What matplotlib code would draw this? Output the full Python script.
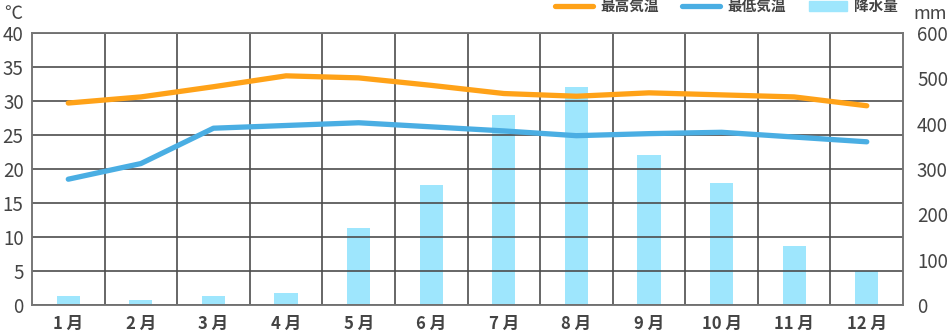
import numpy as np
import matplotlib.pyplot as plt
from matplotlib.lines import Line2D
from matplotlib.patches import Patch

plt.rcParams['font.family'] = ['Noto Sans CJK JP', 'DejaVu Sans']

months = ["1 月", "2 月", "3 月", "4 月", "5 月", "6 月",
          "7 月", "8 月", "9 月", "10 月", "11 月", "12 月"]
temp_max = [29.7, 30.6, 32.1, 33.7, 33.4, 32.3, 31.1, 30.7, 31.2, 30.9, 30.6, 29.3]
temp_min = [18.5, 20.8, 26.0, 26.4, 26.8, 26.2, 25.6, 24.9, 25.2, 25.4, 24.7, 24.0]
rain = [20, 10, 20, 27, 170, 265, 420, 480, 330, 270, 130, 75]

c_max = "#ffa218"
c_min = "#4aaee3"
c_bar = "#9ee6fd"
c_grid = "#4d4d4d"
c_text = "#444444"

fig = plt.figure(figsize=(9.52, 3.32), dpi=100)
ax = fig.add_axes([0.0336, 0.0813, 0.915, 0.8193])
ax2 = ax.twinx()

x = np.arange(1, 13)
ax2.bar(x, rain, width=0.32, color=c_bar, zorder=1)
ax2.set_ylim(0, 600)
ax2.set_yticks(range(0, 601, 100))

ax.set_zorder(ax2.get_zorder() + 1)
ax.patch.set_visible(False)
ax.plot(x, temp_max, color=c_max, lw=3.8, solid_capstyle='round', zorder=4)
ax.plot(x, temp_min, color=c_min, lw=3.8, solid_capstyle='round', zorder=4)
ax.set_xlim(0.5, 12.5)
ax.set_ylim(0, 40)
ax.set_yticks(range(0, 41, 5))
ax.set_xticks(x)
ax.set_xticklabels(months)
ax.set_xticks(np.arange(1.5, 12.5, 1), minor=True)
ax.grid(True, axis='y', which='major', color=c_grid, lw=1.2, zorder=2)
ax.grid(True, axis='x', which='minor', color=c_grid, lw=1.2, zorder=2)
ax.grid(False, axis='x', which='major')

for a in (ax, ax2):
    for s in a.spines.values():
        s.set_color("#777777")
        s.set_linewidth(1.2)
    a.tick_params(which='both', length=0, colors=c_text, labelsize=13.5)
ax.tick_params(axis='x', pad=7, labelsize=12)
ax.tick_params(axis='y', pad=6)
ax2.tick_params(axis='y', pad=10)
for t in ax.get_xticklabels():
    t.set_fontweight('bold')

fig.text(0.004, 0.985, "℃", fontsize=13, color=c_text, va='top', ha='left')
fig.text(0.959, 0.985, "mm", fontsize=13, color=c_text, va='top', ha='left')

handles = [Line2D([0], [0], color=c_max, lw=3.8, solid_capstyle='round'),
           Line2D([0], [0], color=c_min, lw=3.8, solid_capstyle='round'),
           Patch(color=c_bar)]
leg = fig.legend(handles, ["最高気温", "最低気温", "降水量"], ncol=3, frameon=False,
                 loc='upper right', bbox_to_anchor=(0.957, 1.045), fontsize=10.5,
                 handlelength=2.6, handleheight=0.7, columnspacing=1.6, handletextpad=0.5)
for t in leg.get_texts():
    t.set_color(c_text)
    t.set_fontweight('bold')

fig.savefig("out.png", dpi=100)
